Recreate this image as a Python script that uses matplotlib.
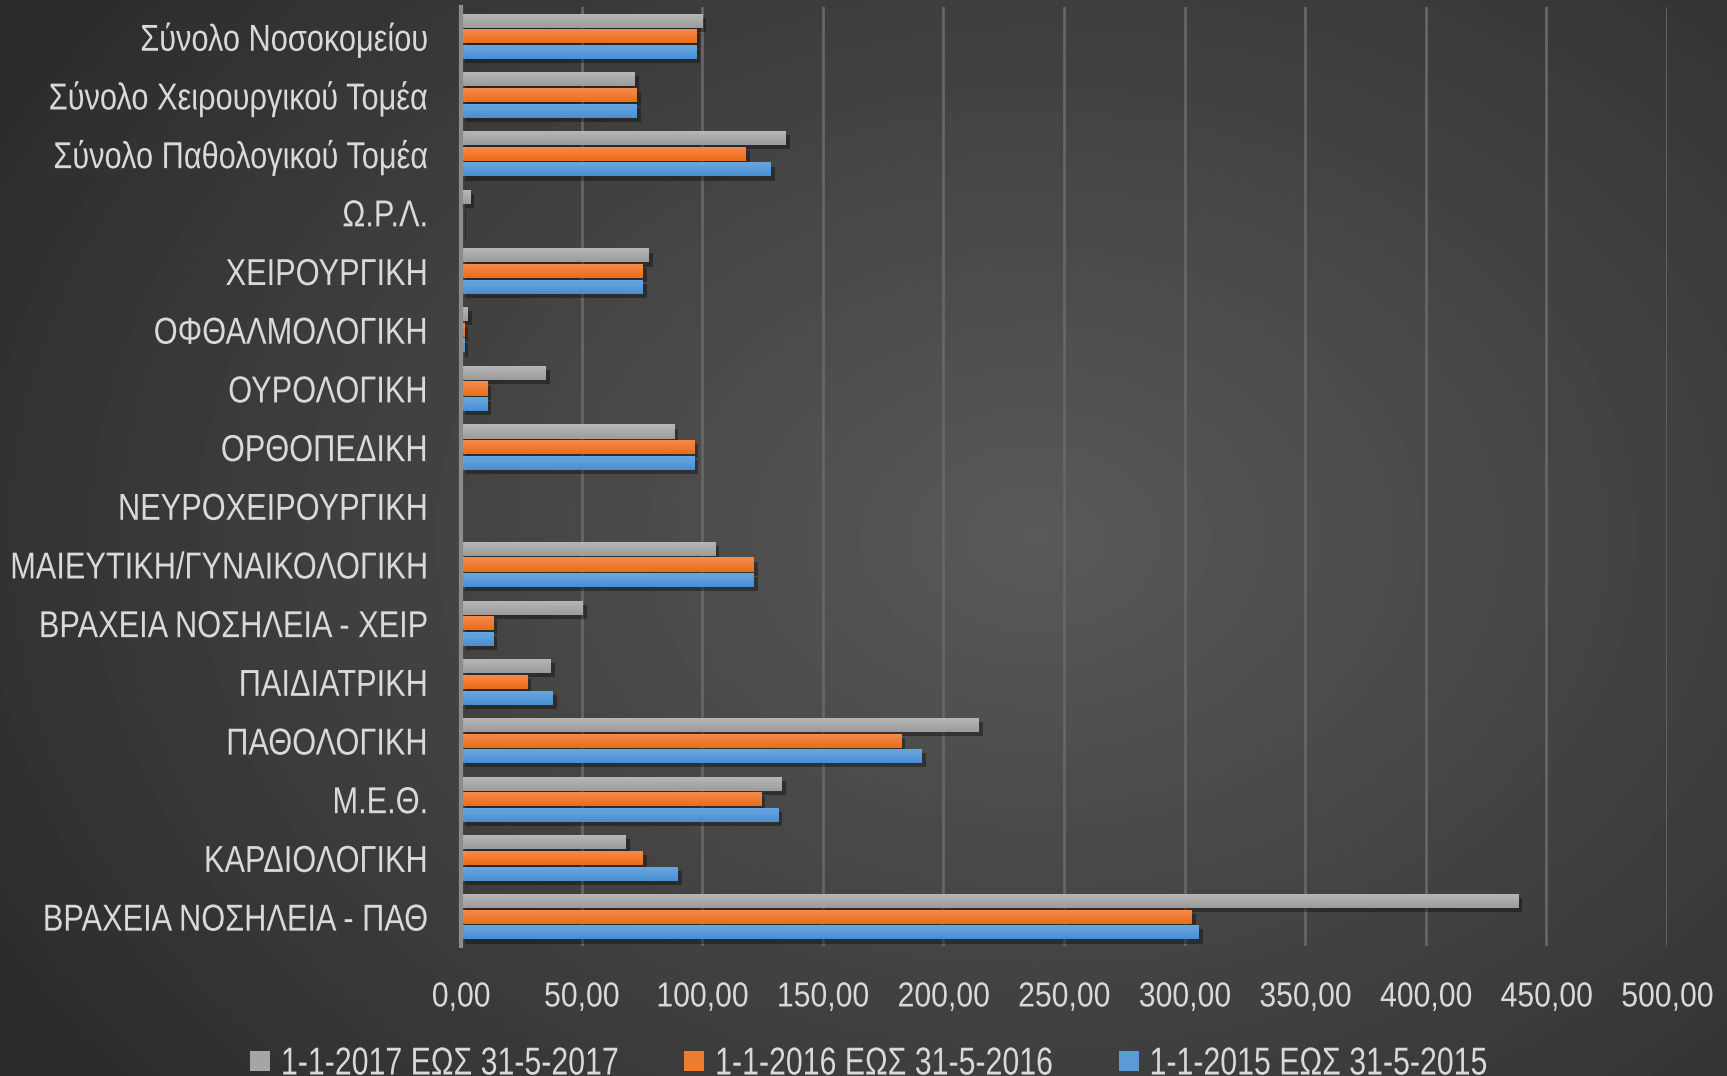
import numpy as np
import matplotlib
matplotlib.use("Agg")
import matplotlib.pyplot as plt
import matplotlib.patheffects as pe
from matplotlib.patches import Patch
from matplotlib.transforms import Affine2D
from matplotlib.colors import LinearSegmentedColormap
from matplotlib.ticker import FuncFormatter, MultipleLocator

plt.rcParams['font.family'] = ['Liberation Sans', 'DejaVu Sans']

# categories from bottom to top
categories = ['ΒΡΑΧΕΙΑ ΝΟΣΗΛΕΙΑ - ΠΑΘ', 'ΚΑΡΔΙΟΛΟΓΙΚΗ', 'Μ.Ε.Θ.', 'ΠΑΘΟΛΟΓΙΚΗ',
              'ΠΑΙΔΙΑΤΡΙΚΗ', 'ΒΡΑΧΕΙΑ ΝΟΣΗΛΕΙΑ - ΧΕΙΡ', 'ΜΑΙΕΥΤΙΚΗ/ΓΥΝΑΙΚΟΛΟΓΙΚΗ',
              'ΝΕΥΡΟΧΕΙΡΟΥΡΓΙΚΗ', 'ΟΡΘΟΠΕΔΙΚΗ', 'ΟΥΡΟΛΟΓΙΚΗ', 'ΟΦΘΑΛΜΟΛΟΓΙΚΗ',
              'ΧΕΙΡΟΥΡΓΙΚΗ', 'Ω.Ρ.Λ.', 'Σύνολο Παθολογικού Τομέα',
              'Σύνολο Χειρουργικού Τομέα', 'Σύνολο Νοσοκομείου']

vals_2017 = [438.2, 68.2, 133.0, 214.7, 37.1, 50.4, 105.4, 0, 88.3, 35.0, 2.9, 77.9, 3.75, 134.6, 72.1, 100.0]
vals_2016 = [302.9, 75.3, 124.5, 182.5, 27.5, 13.3, 121.3, 0, 96.7, 10.8, 1.25, 75.4, 0.4, 117.9, 72.9, 97.5]
vals_2015 = [305.8, 89.9, 131.5, 191.0, 37.9, 13.3, 121.3, 0, 96.7, 10.8, 1.25, 75.4, 0.4, 128.3, 72.9, 97.5]

series_labels = ['1-1-2017 ΕΩΣ 31-5-2017', '1-1-2016 ΕΩΣ 31-5-2016', '1-1-2015 ΕΩΣ 31-5-2015']
# (light top, dark bottom, legend colour)
series_colors = [('#b8b8b8', '#9c9c9c', '#a5a5a5'),
                 ('#f58d4f', '#ec6d1a', '#ed7d31'),
                 ('#6aa8e2', '#4a8fd4', '#5b9bd5')]

text_col = '#d9d9d9'
NARROW = 0.82  # the original uses a narrow font; emulate with a vertical stretch


class Stretch(pe.AbstractPathEffect):
    """stretch text vertically around the middle of the capitals"""
    def __init__(self, sy, yref=36):
        super().__init__()
        self.sy = sy
        self.yref = yref

    def draw_path(self, renderer, gc, tpath, affine, rgbFace=None):
        t = Affine2D().translate(0, -self.yref).scale(1, self.sy).translate(0, self.yref) + affine
        renderer.draw_path(gc, tpath, t, rgbFace)


ylab_size, xlab_size, leg_size = 27 * NARROW, 26.5 * NARROW, 26.6 * NARROW

fig = plt.figure(figsize=(17.27, 10.76), dpi=100)

# radial background
bg = fig.add_axes([0, 0, 1, 1], zorder=-10)
yy, xx = np.mgrid[0:1:300j, 0:1:480j]
r = np.sqrt(((xx - 0.6) / 0.75) ** 2 + ((yy - 0.5) / 0.9) ** 2)
shade = np.clip(1 - r, 0, 1)
bg.imshow(0.16 + 0.19 * shade, cmap='gray', vmin=0, vmax=1, extent=[0, 1, 0, 1],
          aspect='auto', origin='lower')
bg.axis('off')

ax = fig.add_axes([0.2669, 0.1208, 0.6984, 0.8727])
ax.set_facecolor('none')

y = np.arange(len(categories))
h = 0.24
step = 0.267
offsets = [step, 0, -step]
all_vals = [vals_2017, vals_2016, vals_2015]

handles = []
for vals, off, (light, dark, mid), lab in zip(all_vals, offsets, series_colors, series_labels):
    bars = ax.barh(y + off, vals, height=h, color=mid, zorder=3,
                   path_effects=[pe.SimplePatchShadow(offset=(3, -3), shadow_rgbFace='black', alpha=0.35),
                                 pe.Normal()])
    cmap = LinearSegmentedColormap.from_list('g', [dark, light])
    grad = np.linspace(0, 1, 32).reshape(-1, 1)
    for b in bars:
        w = b.get_width()
        if w <= 0:
            continue
        y0 = b.get_y()
        im = ax.imshow(grad, cmap=cmap, extent=[0, w, y0, y0 + h], aspect='auto',
                       origin='lower', zorder=4)
        im.set_clip_path(b)
    handles.append(Patch(facecolor=mid, label=lab))

ax.set_xlim(0, 500)
ax.set_ylim(-0.5, len(categories) - 0.5)
ax.set_aspect('auto')
ax.xaxis.set_major_locator(MultipleLocator(50))
ax.xaxis.set_major_formatter(FuncFormatter(lambda v, p: f'{v:.2f}'.replace('.', ',')))
ax.set_yticks(y)
ax.set_yticklabels(categories)
ax.tick_params(axis='both', length=0, colors=text_col)
ax.tick_params(axis='y', pad=24, labelsize=ylab_size)
ax.tick_params(axis='x', pad=26.5, labelsize=xlab_size)
ax.grid(axis='x', color='#666666', linewidth=2, zorder=1)
for s in ['top', 'right', 'bottom']:
    ax.spines[s].set_visible(False)
ax.spines['left'].set_color('#8c8c8c')
ax.spines['left'].set_linewidth(3)
ax.spines['left'].set_zorder(5)

leg = fig.legend(handles=handles, loc='center left', bbox_to_anchor=(0.1448, 0.0117), ncol=3,
                 frameon=False, fontsize=leg_size, handlelength=0.66, handleheight=0.66,
                 handletextpad=0.36, columnspacing=2.2, borderpad=0, borderaxespad=0,
                 labelcolor=text_col)

fig.canvas.draw()
for t in ax.get_yticklabels():
    t.set_path_effects([Stretch(27 / ylab_size)])
for t in ax.get_xticklabels():
    t.set_path_effects([Stretch(25 / xlab_size)])
for t in leg.get_texts():
    t.set_path_effects([Stretch(28 / leg_size)])

fig.savefig('out.png', dpi=100)
